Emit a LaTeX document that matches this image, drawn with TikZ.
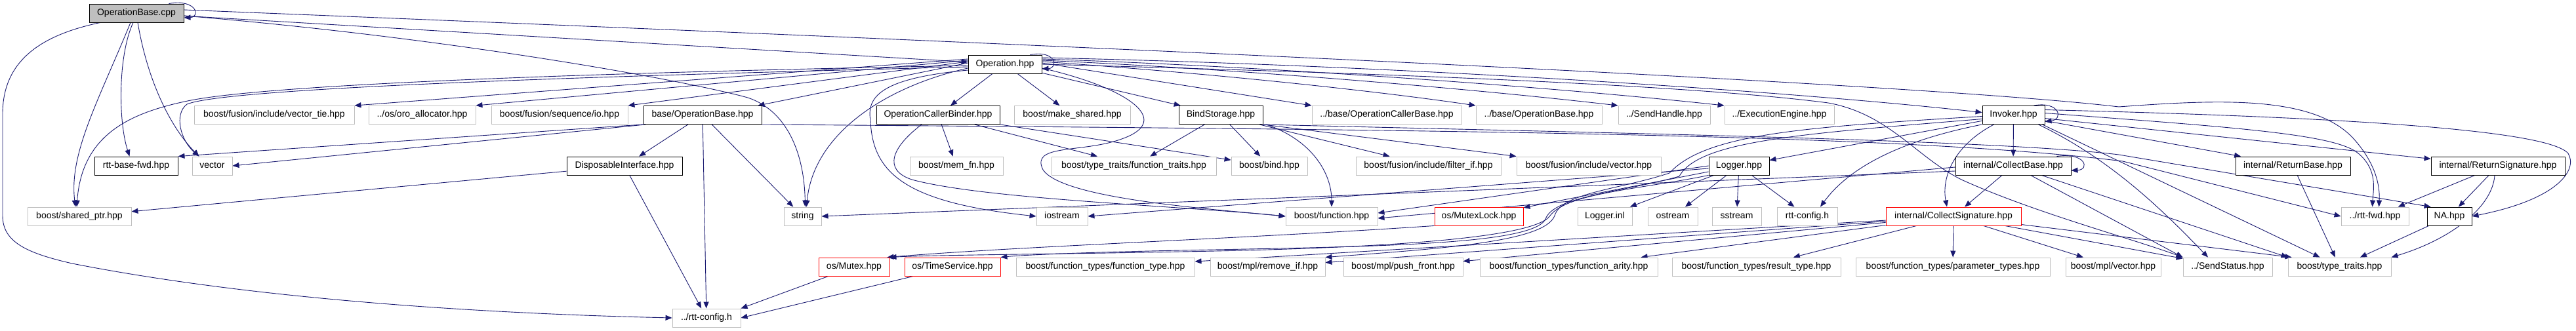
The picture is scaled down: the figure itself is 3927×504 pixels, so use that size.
\documentclass[tikz,border=0pt]{standalone}
\usepackage{fontspec}
\setmainfont{Liberation Sans}
\usetikzlibrary{arrows.meta}
\definecolor{edgecol}{RGB}{25,25,112}
\definecolor{graybd}{RGB}{191,191,191}
\definecolor{rootfill}{RGB}{191,191,191}
\pgfdeclarelayer{bg}
\pgfsetlayers{bg,main}
\tikzset{
  nbase/.style={draw, line width=0.9pt, minimum height=28pt, inner sep=0pt, fill=white,
     font=\fontsize{14}{16}\selectfont, text height=10pt, text depth=3pt},
  gbox/.style={nbase, draw=graybd},
  bbox/.style={nbase, draw=black},
  rbox/.style={nbase, draw=red},
  rootbox/.style={nbase, draw=black, fill=rootfill},
  dep/.style={draw=edgecol, line width=0.9pt, -{Triangle[length=10pt,width=8pt]}}
}
\begin{document}
\begin{tikzpicture}[x=1pt,y=1pt]
\useasboundingbox (0,0) rectangle (3927,504);
% row 1
\node[rootbox, minimum width=144pt] (ob) at (208,484) {OperationBase.cpp};
% row 2
\node[bbox, minimum width=112pt] (op) at (1532,406) {Operation.hpp};
% row 3
\node[gbox, minimum width=244pt] (vtie) at (418,328.5) {boost/fusion/include/vector\_tie.hpp};
\node[gbox, minimum width=163pt] (oroalloc) at (643.5,328.5) {../os/oro\_allocator.hpp};
\node[gbox, minimum width=208pt] (fio) at (853,328.5) {boost/fusion/sequence/io.hpp};
\node[bbox, minimum width=180pt] (bob) at (1071,328.5) {base/OperationBase.hpp};
\node[bbox, minimum width=188pt] (ocbinder) at (1430,328.5) {OperationCallerBinder.hpp};
\node[gbox, minimum width=177pt] (mkshared) at (1634.5,328.5) {boost/make\_shared.hpp};
\node[bbox, minimum width=128pt] (bindst) at (1861,328.5) {BindStorage.hpp};
\node[gbox, minimum width=228pt] (pocb) at (2114,328.5) {../base/OperationCallerBase.hpp};
\node[gbox, minimum width=192pt] (pob) at (2346,328.5) {../base/OperationBase.hpp};
\node[gbox, minimum width=140pt] (sendh) at (2537,328.5) {../SendHandle.hpp};
\node[gbox, minimum width=167pt] (exeng) at (2712.5,328.5) {../ExecutionEngine.hpp};
\node[bbox, minimum width=95pt] (invoker) at (3069.5,328.5) {Invoker.hpp};
% row 4
\node[bbox, minimum width=127pt] (rbfwd) at (207.5,251) {rtt-base-fwd.hpp};
\node[gbox, minimum width=61pt] (vector) at (323.5,251) {vector};
\node[bbox, minimum width=176pt] (disp) at (952,251) {DisposableInterface.hpp};
\node[gbox, minimum width=142pt] (memfn) at (1458,251) {boost/mem\_fn.hpp};
\node[gbox, minimum width=251pt] (ftraits) at (1728.5,251) {boost/type\_traits/function\_traits.hpp};
\node[gbox, minimum width=116pt] (bind) at (1935,251) {boost/bind.hpp};
\node[gbox, minimum width=221pt] (filterif) at (2177.5,251) {boost/fusion/include/filter\_if.hpp};
\node[gbox, minimum width=220pt] (fvector) at (2422,251) {boost/fusion/include/vector.hpp};
\node[bbox, minimum width=92pt] (logger) at (2651,251) {Logger.hpp};
\node[bbox, minimum width=176pt] (cbase) at (3069,251) {internal/CollectBase.hpp};
\node[bbox, minimum width=175pt] (rbase) at (3495.5,251) {internal/ReturnBase.hpp};
\node[bbox, minimum width=204pt] (rsig) at (3808,251) {internal/ReturnSignature.hpp};
% row 5
\node[gbox, minimum width=158pt] (sptr) at (121,174) {boost/shared\_ptr.hpp};
\node[gbox, minimum width=57pt] (string) at (1223.5,174) {string};
\node[gbox, minimum width=78pt] (iostream) at (1619,174) {iostream};
\node[gbox, minimum width=140pt] (bfunc) at (2030,174) {boost/function.hpp};
\node[rbox, minimum width=135pt] (mutexlock) at (2254.5,174) {os/MutexLock.hpp};
\node[gbox, minimum width=83pt] (loggerinl) at (2446.5,174) {Logger.inl};
\node[gbox, minimum width=76pt] (ostream) at (2550,174) {ostream};
\node[gbox, minimum width=75pt] (sstream) at (2647.5,174) {sstream};
\node[gbox, minimum width=92pt] (rttconfig) at (2755,174) {rtt-config.h};
\node[rbox, minimum width=206pt] (csig) at (2978,174) {internal/CollectSignature.hpp};
\node[gbox, minimum width=103pt] (rttfwd) at (3620.5,174) {../rtt-fwd.hpp};
\node[bbox, minimum width=68pt] (na) at (3734,174) {NA.hpp};
% row 6
\node[rbox, minimum width=108pt] (mutex) at (1302,97) {os/Mutex.hpp};
\node[rbox, minimum width=146pt] (tservice) at (1452,97) {os/TimeService.hpp};
\node[gbox, minimum width=272pt] (ftype) at (1685,97) {boost/function\_types/function\_type.hpp};
\node[gbox, minimum width=175pt] (removeif) at (1932.5,97) {boost/mpl/remove\_if.hpp};
\node[gbox, minimum width=182pt] (pushfront) at (2139,97) {boost/mpl/push\_front.hpp};
\node[gbox, minimum width=271pt] (farity) at (2391.5,97) {boost/function\_types/function\_arity.hpp};
\node[gbox, minimum width=257pt] (rtype) at (2677.5,97) {boost/function\_types/result\_type.hpp};
\node[gbox, minimum width=296pt] (ptypes) at (2977,97) {boost/function\_types/parameter\_types.hpp};
\node[gbox, minimum width=145pt] (mplvec) at (3221.5,97) {boost/mpl/vector.hpp};
\node[gbox, minimum width=136pt] (sendst) at (3396,97) {../SendStatus.hpp};
\node[gbox, minimum width=157pt] (ttraits) at (3566.5,97) {boost/type\_traits.hpp};
% row 7
\node[gbox, minimum width=104pt] (rttconfigh) at (1077,19) {../rtt-config.h};

\begin{pgfonlayer}{bg}
% OperationBase.cpp
\draw[dep] ([xshift=-23pt]ob.north east) .. controls (300,506) and (306,478) .. ([yshift=-7pt]ob.east);
\draw[dep] (ob) -- (op);
\draw[dep] ([yshift=-4pt]ob.east) .. controls (700,445) and (1050,380) .. (1140,355) .. controls (1200,335) and (1226,270) .. ([xshift=4pt]string.north);
\draw[dep] ([yshift=5pt]ob.east) .. controls (1500,440) and (2900,380) .. (3230,341) .. controls (3380,352) and (3530,360) .. (3590,290) .. controls (3625,250) and (3628,215) .. ([xshift=6pt]rttfwd.north);
\draw[dep] ([xshift=-9pt]ob.south) .. controls (150,350) and (105,270) .. ([xshift=-6pt]sptr.north);
\draw[dep] ([xshift=-5pt]ob.south) .. controls (180,420) and (180,320) .. ([xshift=-10pt]rbfwd.north);
\draw[dep] ([xshift=2pt]ob.south) .. controls (225,380) and (260,310) .. ([xshift=-20pt]vector.north);
\draw[dep] ([xshift=-55pt]ob.south) .. controls (60,450) and (4,410) .. (4,330) -- (4,175) .. controls (4,135) and (40,118) .. (110,102) .. controls (400,45) and (760,25) .. (rttconfigh.west);
% Operation.hpp
\draw[dep] ([xshift=-18pt]op.north east) .. controls (1610,428) and (1614,400) .. ([yshift=-7pt]op.east);
\draw[dep] ([yshift=8pt]op.west) -- (vtie.north east);
\draw[dep] ([yshift=6pt]op.west) -- (oroalloc.north east);
\draw[dep] ([yshift=4pt]op.west) -- (fio.north east);
\draw[dep] ([yshift=2pt]op.west) -- ([xshift=-6pt]bob.north east);
\draw[dep] (op) -- (ocbinder);
\draw[dep] (op) -- (mkshared);
\draw[dep] (op) -- (bindst);
\draw[dep] ([yshift=2pt]op.east) -- (pocb.north west);
\draw[dep] ([yshift=4pt]op.east) .. controls (1850,392) and (2100,365) .. (pob.north west);
\draw[dep] ([yshift=6pt]op.east) .. controls (1900,398) and (2250,368) .. (sendh.north west);
\draw[dep] ([yshift=8pt]op.east) .. controls (1950,402) and (2380,370) .. (exeng.north west);
\draw[dep] ([yshift=10pt]op.east) .. controls (2100,405) and (2700,368) .. ([yshift=4pt]invoker.west);
\draw[dep] ([yshift=-4pt]op.west) .. controls (1000,390) and (350,372) .. (285,345) .. controls (265,330) and (275,290) .. ([xshift=-20pt]vector.north);
\draw[dep] ([yshift=-2pt]op.west) .. controls (1000,395) and (420,378) .. (286,350) .. controls (200,332) and (125,300) .. ([xshift=-4pt]sptr.north);
\draw[dep] ([yshift=-6pt]op.west) .. controls (1350,372) and (1240,300) .. ([xshift=6pt]string.north);
\draw[dep] ([yshift=-9pt]op.west) .. controls (1350,385) and (1320,360) .. (1327,320) .. controls (1330,240) and (1380,195) .. (iostream.west);
\draw[dep] ([yshift=-6pt]op.east) .. controls (1720,370) and (1790,320) .. (1710,292) .. controls (1650,270) and (1570,285) .. (1590,245) .. controls (1620,200) and (1850,185) .. (bfunc.west);
\draw[dep] (op.east) .. controls (2000,395) and (2550,378) .. (2787,347) .. controls (2880,330) and (2920,265) .. (2990,230) .. controls (3100,180) and (3250,140) .. (sendst.north west);
% base/OperationBase.hpp
\draw[dep] (bob) -- (disp);
\draw[dep] (bob) -- (rttconfigh);
\draw[dep] (bob) -- (string);
\draw[dep] (bob.south west) -- (rbfwd.north east);
\draw[dep] ([xshift=4pt]bob.south west) -- (vector.east);
\draw[dep] (bob.south east) .. controls (2200,306) and (2900,300) .. (3236,258) -- (rttfwd.west);
% DisposableInterface.hpp
\draw[dep] (disp) -- (sptr);
\draw[dep] (disp) -- (rttconfigh);
% OperationCallerBinder.hpp
\draw[dep] (ocbinder) -- (memfn);
\draw[dep] (ocbinder) -- (ftraits);
\draw[dep] (ocbinder) -- (bind);
\draw[dep] ([xshift=-25pt]ocbinder.south) .. controls (1360,280) and (1345,245) .. (1390,230) .. controls (1500,200) and (1800,190) .. (bfunc.west);
% BindStorage.hpp
\draw[dep] (bindst) -- (ftraits);
\draw[dep] (bindst) -- (bind);
\draw[dep] ([xshift=5pt]bindst.south east) .. controls (2000,290) and (2030,240) .. (bfunc.north);
\draw[dep] (bindst) -- (filterif);
\draw[dep] (bindst.south east) -- (fvector.north west);
\draw[dep] (bindst.south east) .. controls (2500,300) and (3050,290) .. (3230,268) -- ([xshift=6pt]na.north west);
% Logger.hpp
\draw[dep] ([yshift=-4pt]logger.west) -- (iostream.east);
\draw[dep] (logger.west) -- ([yshift=5pt]bfunc.east);
\draw[dep] (logger) -- (mutexlock);
\draw[dep] (logger) -- (loggerinl);
\draw[dep] (logger) -- (ostream);
\draw[dep] (logger) -- (sstream);
\draw[dep] (logger) -- (rttconfig);
\draw[dep] (logger.south west) .. controls (2500,215) and (2390,210) .. (2363,175) .. controls (2340,140) and (2100,125) .. (1800,120) .. controls (1600,116) and (1420,115) .. (mutex.north east);
% os/MutexLock.hpp
\draw[dep] (mutexlock.south west) .. controls (1900,140) and (1550,128) .. ([xshift=-4pt]mutex.north east);
% Invoker.hpp
\draw[dep] ([xshift=-17pt]invoker.north east) .. controls (3140,350) and (3146,322) .. ([yshift=-10pt]invoker.east);
\draw[dep] (invoker) -- (logger);
\draw[dep] (invoker) -- (cbase);
\draw[dep] ([xshift=-30pt]invoker.south) .. controls (2975,280) and (2960,230) .. ([xshift=-10pt]csig.north);
\draw[dep] (invoker.south west) .. controls (2900,290) and (2820,250) .. ([xshift=20pt]rttconfig.north);
\draw[dep] (invoker) -- (rbase);
\draw[dep] (invoker) -- (rsig);
\draw[dep] ([yshift=3pt]invoker.east) .. controls (3400,310) and (3560,300) .. (3595,270) .. controls (3625,245) and (3618,215) .. ([xshift=-4pt]rttfwd.north);
\draw[dep] ([yshift=8pt]invoker.east) .. controls (3500,327) and (3880,310) .. (3915,270) .. controls (3930,245) and (3900,200) .. (na.east);
\draw[dep] ([xshift=-10pt]invoker.south east) .. controls (3220,260) and (3300,180) .. ([xshift=-30pt]sendst.north);
\draw[dep] ([xshift=-4pt]invoker.south east) -- ([xshift=-30pt]ttraits.north);
\draw[dep] ([yshift=-2pt]invoker.west) .. controls (2750,310) and (2600,300) .. (2545,240) .. controls (2470,215) and (2380,210) .. (2370,175) .. controls (2355,135) and (2200,125) .. (removeif.north east);
\draw[dep] ([yshift=-6pt]invoker.west) .. controls (2750,300) and (2590,290) .. (2560,235) .. controls (2480,212) and (2372,205) .. (2357,172) .. controls (2345,130) and (2100,128) .. (1800,122) .. controls (1650,119) and (1560,115) .. (tservice.north east);
% internal/CollectBase.hpp
\draw[dep] ([xshift=-22pt]cbase.north east) .. controls (3180,272) and (3186,245) .. ([yshift=-7pt]cbase.east);
\draw[dep] (cbase) -- (csig);
\draw[dep] ([yshift=-8pt]cbase.west) -- (string.east);
\draw[dep] ([yshift=-2pt]cbase.west) -- ([yshift=-3pt]bfunc.east);
\draw[dep] (cbase) -- (sendst.north west);
\draw[dep] (cbase) -- (ttraits.north west);
% internal/CollectSignature.hpp
\draw[dep] (csig) -- (ftype);
\draw[dep] (csig) -- (removeif);
\draw[dep] (csig) -- (pushfront);
\draw[dep] (csig) -- (farity);
\draw[dep] (csig) -- (rtype);
\draw[dep] (csig) -- (ptypes);
\draw[dep] (csig) -- (mplvec);
\draw[dep] (csig) -- (sendst);
\draw[dep] (csig) -- ([xshift=6pt]ttraits.north west);
% internal/ReturnBase.hpp, ReturnSignature.hpp, NA.hpp
\draw[dep] (rbase) -- (ttraits);
\draw[dep] (rsig) -- (rttfwd);
\draw[dep] (rsig) -- (na);
\draw[dep] ([xshift=-5pt]rsig.south) .. controls (3800,190) and (3740,140) .. (ttraits.north east);
\draw[dep] (na) -- (ttraits);
% os/Mutex.hpp, os/TimeService.hpp
\draw[dep] (mutex) -- (rttconfigh.north east);
\draw[dep] (tservice) -- (rttconfigh.east);
\end{pgfonlayer}
\end{tikzpicture}
\end{document}
